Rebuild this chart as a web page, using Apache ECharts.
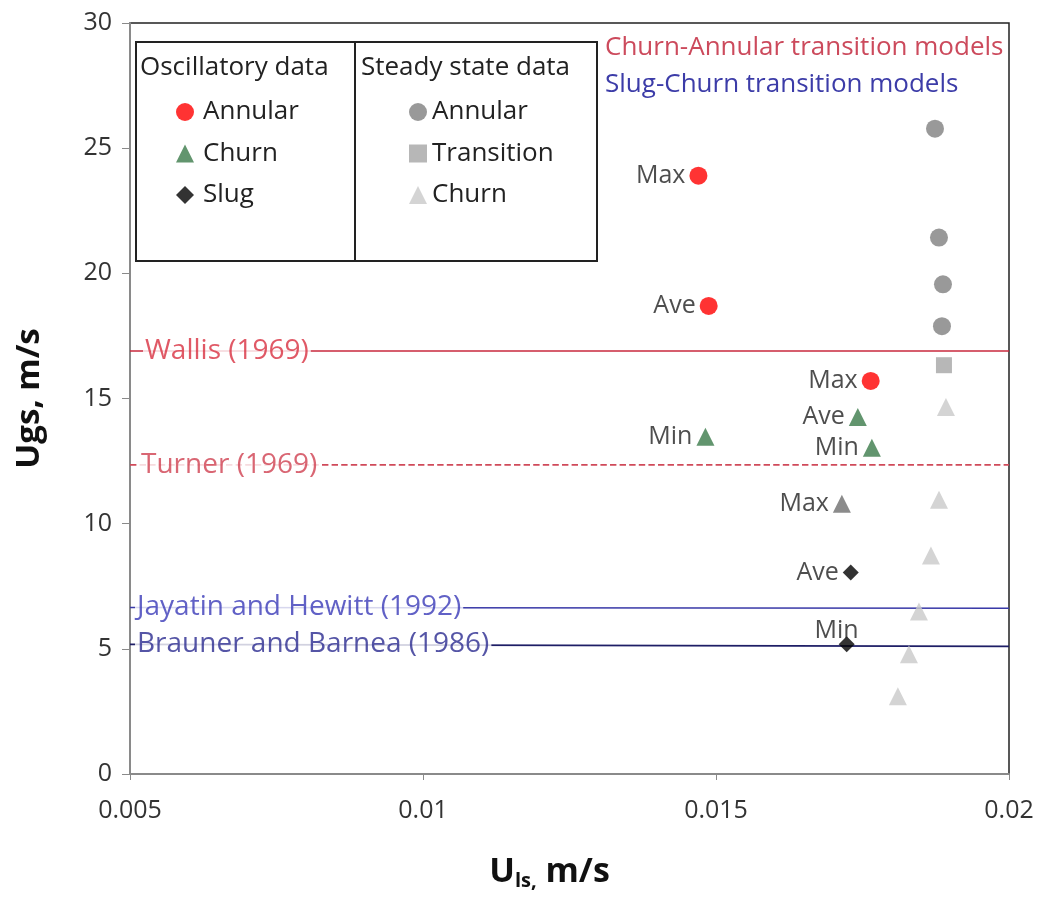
<!DOCTYPE html>
<html>
<head>
<meta charset="utf-8">
<script src="https://cdn.jsdelivr.net/npm/echarts@6/dist/echarts.min.js"></script>
<style>
html,body{margin:0;padding:0;background:#fff;}
#c{width:1043px;height:903px;}
</style>
</head>
<body>
<div id="c"></div>
<script>
// ---- data ----
var xTicks = ['0.005', '0.01', '0.015', '0.02'];
var yTicks = [0, 5, 10, 15, 20, 25, 30];

var oscAnnularX = [0.01470, 0.014875, 0.01764];
var oscAnnularY = [23.9, 18.7, 15.7];
var oscAnnularLbl = ['Max', 'Ave', 'Max'];

var oscChurnX = [0.01482, 0.01742, 0.01766, 0.017148];
var oscChurnY = [13.47, 14.26, 13.03, 10.80];
var oscChurnLbl = ['Min', 'Ave', 'Min', 'Max'];

var oscSlugX = [0.0173, 0.01723];
var oscSlugY = [8.05, 5.18];
var oscSlugLbl = ['Ave', 'Min'];

var ssAnnularX = [0.018737, 0.018805, 0.018873, 0.018856];
var ssAnnularY = [25.78, 21.43, 19.56, 17.89];

var ssTransX = [0.01889];
var ssTransY = [16.33];

var ssChurnX = [0.018924, 0.018805, 0.018668, 0.018463, 0.018292, 0.018104];
var ssChurnY = [14.66, 10.96, 8.73, 6.49, 4.78, 3.11];

var modelNames = ['Wallis (1969)', 'Turner (1969)', 'Jayatin and Hewitt (1992)', 'Brauner and Barnea (1986)'];
var modelX = [[0.005, 0.02], [0.005, 0.02], [0.005, 0.02], [0.005, 0.02]];
var modelY = [[16.9, 16.9], [12.35, 12.35], [6.65, 6.62], [5.18, 5.1]];
var modelLabelX = [0.005222, 0.005154, 0.005085, 0.005085];

// ---- styles ----
var FONT = 'Open Sans';
var modelColors = ['#c8283c', '#d04a5a', '#3a3aa8', '#1e1e66'];
var modelTextColors = ['#d83040', '#d04050', '#3a3ab8', '#2a2a90'];
var modelDash = ['solid', 'dashed', 'solid', 'solid'];

function pts(xs, ys, lbls) {
  return xs.map(function (x, i) {
    var d = { value: [x, ys[i]] };
    if (lbls) d.name = lbls[i];
    return d;
  });
}

var series = [];
modelNames.forEach(function (n, i) {
  series.push({
    type: 'line', name: n, silent: true, symbol: 'none', z: 2,
    lineStyle: { color: modelColors[i], width: 1.6, type: modelDash[i] },
    data: modelX[i].map(function (x, j) { return [x, modelY[i][j]]; })
  });
});
series.push({
  type: 'scatter', name: 'modelLabels', symbolSize: 0, silent: true, z: 3,
  label: {
    show: true, position: 'right', distance: 0,
    formatter: function (p) { return p.name; },
    fontFamily: FONT, fontSize: 28,
    backgroundColor: '#fff', padding: [0, 2, 0, 2],
    color: '#000'
  },
  data: modelNames.map(function (n, i) {
    return { name: n, value: [modelLabelX[i], modelY[i][0]], label: { color: modelTextColors[i] } };
  })
});

var ptLabel = {
  show: true, position: 'left', distance: 4,
  formatter: function (p) { return p.name; },
  fontFamily: FONT, fontSize: 25, color: '#222'
};

var churnData = pts(oscChurnX, oscChurnY, oscChurnLbl);
churnData[3].itemStyle = { color: '#6e6e6e' };
var slugData = pts(oscSlugX, oscSlugY, oscSlugLbl);
slugData[1].label = { offset: [24, -13] };

series.push({
  type: 'scatter', name: 'Annular', symbol: 'circle', symbolSize: 18, z: 5,
  itemStyle: { color: '#ff0000' }, label: ptLabel,
  data: pts(oscAnnularX, oscAnnularY, oscAnnularLbl)
});
series.push({
  type: 'scatter', name: 'Churn', symbol: 'triangle', symbolSize: 18, z: 5,
  itemStyle: { color: '#3b7a4a' }, label: ptLabel,
  data: churnData
});
series.push({
  type: 'scatter', name: 'Slug', symbol: 'diamond', symbolSize: 16, z: 5,
  itemStyle: { color: '#000' }, label: ptLabel,
  data: slugData
});
series.push({
  type: 'scatter', name: 'Annular ', symbol: 'circle', symbolSize: 18, z: 4,
  itemStyle: { color: '#7f7f7f' },
  data: pts(ssAnnularX, ssAnnularY)
});
series.push({
  type: 'scatter', name: 'Transition', symbol: 'rect', symbolSize: 16, z: 4,
  itemStyle: { color: '#a5a5a5' },
  data: pts(ssTransX, ssTransY)
});
series.push({
  type: 'scatter', name: 'Churn ', symbol: 'triangle', symbolSize: 18, z: 4,
  itemStyle: { color: '#c9c9c9' },
  data: pts(ssChurnX, ssChurnY)
});

var legendText = { fontFamily: FONT, fontSize: 26, color: '#222' };

function gText(txt, x, y, color) {
  return { type: 'text', z: 10, style: { text: txt, x: x, y: y, verticalAlign: 'middle', align: 'left', fontFamily: FONT, fontSize: 26, fill: color } };
}

var option = {
  animation: false,
  backgroundColor: '#fff',
  grid: { left: 130, right: 34, top: 23, bottom: 129, show: true, borderColor: '#222', borderWidth: 1.5 },
  xAxis: {
    type: 'value', min: 0.005, max: 0.02, interval: 0.005,
    axisLine: { show: true, lineStyle: { color: '#8a8a8a', width: 2 } },
    axisTick: { show: true, length: 6, lineStyle: { color: '#8a8a8a' } },
    splitLine: { show: false },
    axisLabel: {
      fontFamily: FONT, fontSize: 25, color: '#333', margin: 24,
      formatter: function (v) {
        var idx = Math.round((v - 0.005) / 0.005);
        return xTicks[idx] !== undefined ? xTicks[idx] : '';
      }
    },
    name: '{u|U}{s|ls,}{u| m/s}', nameLocation: 'middle', nameGap: 79,
    nameTextStyle: {
      padding: [0, 40, 0, 0],
      rich: {
        u: { fontFamily: FONT, fontSize: 34, fontWeight: 'bold', color: '#111' },
        s: { fontFamily: FONT, fontSize: 20, fontWeight: 'bold', color: '#111', verticalAlign: 'bottom', padding: [18, 0, 0, 0] }
      }
    }
  },
  yAxis: {
    type: 'value', min: 0, max: 30, interval: 5,
    axisLine: { show: true, lineStyle: { color: '#8a8a8a', width: 2 } },
    axisTick: { show: true, length: 8, lineStyle: { color: '#8a8a8a' } },
    splitLine: { show: false },
    axisLabel: {
      fontFamily: FONT, fontSize: 25, color: '#333', margin: 18,
      formatter: function (v) { return yTicks.indexOf(v) >= 0 ? String(v) : ''; }
    },
    name: 'Ugs, m/s', nameLocation: 'middle', nameGap: 84,
    nameTextStyle: { fontFamily: FONT, fontSize: 33, fontWeight: 'bold', color: '#111' }
  },
  legend: [
    {
      data: ['Annular', 'Churn', 'Slug'], orient: 'vertical', left: 176, top: 99,
      itemWidth: 18, itemHeight: 18, itemGap: 15.5, textStyle: Object.assign({ padding: [0, 0, 0, 4] }, legendText), selectedMode: false,
      padding: 0
    },
    {
      data: ['Annular ', 'Transition', 'Churn '], orient: 'vertical', left: 409, top: 99,
      itemWidth: 18, itemHeight: 18, itemGap: 15.5, textStyle: legendText, selectedMode: false,
      padding: 0,
      formatter: function (n) { return n.trim(); }
    }
  ],
  graphic: [
    { type: 'rect', z: 0, shape: { x: 136, y: 42, width: 219, height: 219 }, style: { fill: '#fff', stroke: '#222', lineWidth: 2 } },
    { type: 'rect', z: 0, shape: { x: 355, y: 42, width: 242, height: 219 }, style: { fill: '#fff', stroke: '#222', lineWidth: 2 } },
    gText('Oscillatory data', 140, 68, '#222'),
    gText('Steady state data', 361, 68, '#222'),
    gText('Churn-Annular transition models', 605, 48, '#cc4a5c'),
    gText('Slug-Churn transition models', 605, 85, '#3c3ca8')
  ],
  series: series
};

var chart = echarts.init(document.getElementById('c'), null, { renderer: 'canvas' });
chart.setOption(option);
</script>
</body>
</html>
